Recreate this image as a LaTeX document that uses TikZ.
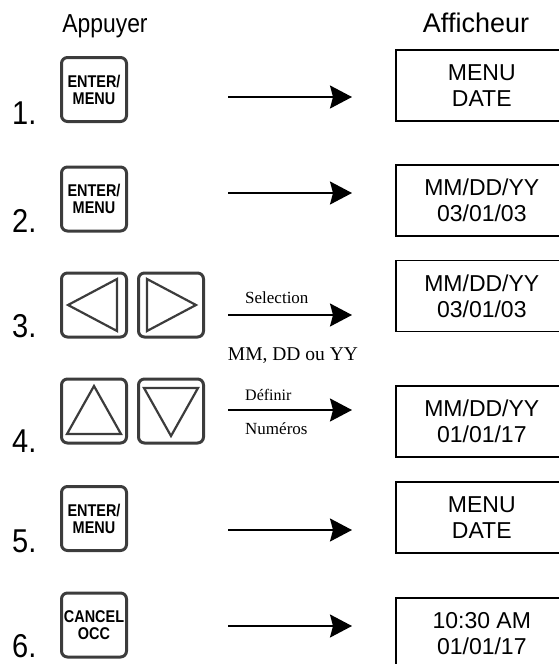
\documentclass[tikz,border=0pt]{standalone}
\usepackage{fontspec}
\setmainfont{Liberation Sans}
\newfontfamily\narrowfont[FakeStretch=0.88]{Liberation Sans}
\newfontfamily\keyfont[FakeStretch=0.85]{Liberation Sans}
\newfontfamily\notefont{Liberation Serif}
\usetikzlibrary{arrows.meta, positioning}
\definecolor{keygray}{HTML}{3C3C3C}

\tikzset{
  key/.style={shape=rectangle, rounded corners=6pt, draw=keygray, line width=3pt, minimum width=65pt, minimum height=64pt, inner sep=0pt, align=center, font=\keyfont\bfseries\fontsize{17}{17}\selectfont},
  display/.style={shape=rectangle, draw=black, line width=1.6pt, minimum width=172pt, minimum height=71pt, inner sep=0pt, align=center, font=\fontsize{23}{26}\selectfont},
  rownum/.style={anchor=base west, inner sep=0pt, font=\narrowfont\fontsize{33}{33}\selectfont},
  header/.style={anchor=base, inner sep=0pt, font=\fontsize{27}{27}\selectfont},
  note/.style={anchor=base west, inner sep=0pt, font=\notefont\fontsize{17}{17}\selectfont},
  flow/.style={-{Stealth[length=22pt, width=23pt, inset=3pt]}, line width=1.8pt},
  glyph/.style={draw=keygray, line width=2.2pt, line join=miter}
}

\begin{document}
\begin{tikzpicture}[x=1pt, y=-1pt]
    \useasboundingbox (0,0) rectangle (559,664);

    \node[header, font=\narrowfont\fontsize{26}{26}\selectfont] (appuyer) at (105,32) {Appuyer};
    \node[header] (afficheur) at (476,32) {Afficheur};

    \node[rownum] (n1) at (12,124) {1.};
    \node[rownum] (n2) at (12,232) {2.};
    \node[rownum] (n3) at (12,337) {3.};
    \node[rownum] (n4) at (12,452) {4.};
    \node[rownum] (n5) at (12,552) {5.};
    \node[rownum] (n6) at (12,657) {6.};

    \node[key] (k1) at (94,89.5) {ENTER/\\MENU};
    \node[key] (k2) at (94,199) {ENTER/\\MENU};
    \node[key] (k3l) at (94,305) {};
    \node[key, right = 9pt of k3l] (k3r) {};
    \node[key] (k4l) at (94,411) {};
    \node[key, right = 9pt of k4l] (k4r) {};
    \node[key] (k5) at (94,518.5) {ENTER/\\MENU};
    \node[key] (k6) at (94,625) {CANCEL\\OCC};

    \draw[glyph] (k3l) ++(-26,0) -- ++(49,-26) -- ++(0,52) -- cycle;
    \draw[glyph] (k3r) ++(25,0) -- ++(-49,-26) -- ++(0,52) -- cycle;
    \draw[glyph] (k4l) ++(0,-25) -- ++(27,48) -- ++(-54,0) -- cycle;
    \draw[glyph] (k4r) ++(0,25) -- ++(27,-48) -- ++(-54,0) -- cycle;

    \node[display] (d1) at (481.8,85.5) {MENU\\DATE};
    \node[display] (d2) at (481.8,200.5) {MM/DD/YY\\03/01/03};
    \node[display] (d3) at (481.8,296) {MM/DD/YY\\03/01/03};
    \node[display] (d4) at (481.8,421.5) {MM/DD/YY\\01/01/17};
    \node[display] (d5) at (481.8,517.5) {MENU\\DATE};
    \node[display] (d6) at (481.8,633.5) {10:30 AM\\01/01/17};

    \coordinate (s1) at (228,97);  \coordinate (e1) at (352,97);
    \coordinate (s2) at (228,193); \coordinate (e2) at (352,193);
    \coordinate (s3) at (228,315); \coordinate (e3) at (352,315);
    \coordinate (s4) at (228,410); \coordinate (e4) at (352,410);
    \coordinate (s5) at (228,530); \coordinate (e5) at (352,530);
    \coordinate (s6) at (228,626); \coordinate (e6) at (352,626);

    \path[flow] (s1) edge (e1);
    \path[flow] (s2) edge (e2);
    \path[flow] (s3) edge (e3);
    \path[flow] (s4) edge (e4);
    \path[flow] (s5) edge (e5);
    \path[flow] (s6) edge (e6);

    \node[note] (sel) at (245,303) {Selection};
    \node[note, anchor=base, font=\notefont\fontsize{19.5}{19.5}\selectfont] (champ) at (293,360) {MM, DD ou YY};
    \node[note, font=\notefont\fontsize{16}{16}\selectfont] (def) at (245,400) {Définir};
    \node[note] (num) at (245,434) {Numéros};
\end{tikzpicture}
\end{document}
